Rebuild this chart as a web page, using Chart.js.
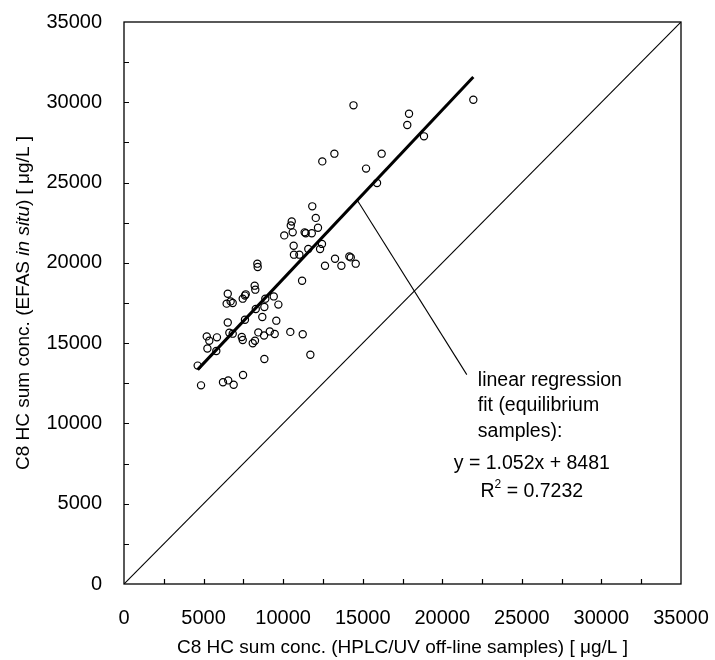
<!DOCTYPE html>
<html>
<head>
<meta charset="utf-8">
<script src="https://cdn.jsdelivr.net/npm/chart.js@4.4.1/dist/chart.umd.min.js"></script>
<style>
  html,body{margin:0;padding:0;background:#fff;}
  #wrap{width:715px;height:660px;}
</style>
</head>
<body>
<div id="wrap"><canvas id="c" width="715" height="660"></canvas></div>
<script>
// HPLC/UV off-line sums (x) vs EFAS in situ sums (y), µg/L
const offlineX = [
  14420, 12460, 13220, 11830, 12050, 10540, 10480, 12190, 10070, 10600,
  11350, 11420, 11800, 12440, 10660, 12320, 11580, 10680, 11020, 8380,
  8400, 12630, 13260, 13660, 14160, 14250, 14560, 11190, 21950, 17910,
  17800, 18850, 16190, 15210, 15900, 8210, 8250, 6520, 7650, 7600,
  7460, 9410, 8880, 6450, 6700, 6830, 9700, 8820, 8280, 6520,
  7600, 8690, 9570, 6620, 6830, 8440, 8800, 9160, 9470, 10450,
  11230, 5200, 5360, 5840, 7400, 7460, 8230, 8090, 5240, 5800,
  4630, 8820, 11710, 4840, 6220, 6550, 6890, 7480
];
const inSituY = [
  29810, 26320, 26800, 23520, 22800, 22580, 22330, 22190, 21710, 21900,
  21900, 21840, 21840, 21180, 21070, 20860, 20860, 20510, 20510, 19950,
  19740, 19820, 20260, 19820, 20400, 20340, 19950, 18890, 30160, 29290,
  28590, 27880, 26800, 25870, 24970, 18580, 18330, 18080, 18040, 17960,
  17770, 17910, 17770, 17460, 17600, 17500, 17400, 17250, 17130, 16290,
  16460, 16630, 16400, 15650, 15590, 15670, 15480, 15730, 15570, 15700,
  15550, 15420, 15150, 15360, 15380, 15200, 15150, 14990, 14670, 14510,
  13600, 14010, 14280, 12370, 12560, 12680, 12410, 13020
];

// regression through equilibrium samples
const fitSlope = 1.052;
const fitIntercept = 8481;
const fitR2 = '0.7232';

// axis range and label step
const axisMax = 35000;
const labelStep = 5000;
const minorStep = 2500;

// pointer from the fit line to the note (x on the fit line, then end point)
const leaderFromX = 14660;
const leaderTo = [21540, 13040];

const noteLines = ['linear regression', 'fit (equilibrium', 'samples):'];
const eqText = 'y = ' + fitSlope.toFixed(3) + 'x + ' + fitIntercept;

const FONT = '"Liberation Sans", Arial, Helvetica, sans-serif';

const fitX0 = Math.min(...offlineX);
const fitX1 = Math.max(...offlineX);
const fitLine = [fitX0, fitX1].map(x => ({x: x, y: fitSlope * x + fitIntercept}));
const oneToOne = [{x: 0, y: 0}, {x: axisMax, y: axisMax}];
const leader = [
  {x: leaderFromX, y: fitSlope * leaderFromX + fitIntercept},
  {x: leaderTo[0], y: leaderTo[1]}
];
const points = offlineX.map((x, i) => ({x: x, y: inSituY[i]}));

// keep the plot box where the layout padding puts it
function fixBox(s) {
  s.paddingTop = 0; s.paddingBottom = 0; s.paddingLeft = 0; s.paddingRight = 0;
}

// box, inward ticks, axis titles and the fit note
const decor = {
  id: 'decor',
  afterDraw(chart) {
    const {ctx, chartArea: a, scales: {x, y}} = chart;
    ctx.save();
    ctx.strokeStyle = '#000';
    ctx.lineWidth = 1.3;
    ctx.strokeRect(a.left, a.top, a.right - a.left, a.bottom - a.top);
    ctx.lineWidth = 1.2;
    ctx.beginPath();
    for (let v = minorStep; v < axisMax; v += minorStep) {
      const px = Math.round(x.getPixelForValue(v)) + 0.5;
      ctx.moveTo(px, a.bottom);
      ctx.lineTo(px, a.bottom - 5);
      const py = Math.round(y.getPixelForValue(v)) + 0.5;
      ctx.moveTo(a.left, py);
      ctx.lineTo(a.left + 5, py);
    }
    ctx.stroke();

    ctx.fillStyle = '#000';
    // x title
    ctx.font = '19px ' + FONT;
    ctx.textAlign = 'center';
    ctx.textBaseline = 'alphabetic';
    ctx.fillText('C8 HC sum conc. (HPLC/UV off-line samples) [ \u03bcg/L ]', (a.left + a.right) / 2, 653);

    // y title, with italic "in situ"
    const parts = [
      ['C8 HC sum conc. (EFAS ', 'normal'],
      ['in situ', 'italic'],
      [') [ \u03bcg/L ]', 'normal']
    ];
    let total = 0;
    parts.forEach(p => { ctx.font = p[1] + ' 19px ' + FONT; p.push(ctx.measureText(p[0]).width); total += p[2]; });
    ctx.translate(29, (a.top + a.bottom) / 2);
    ctx.rotate(-Math.PI / 2);
    ctx.textAlign = 'left';
    let cx = -total / 2;
    parts.forEach(p => { ctx.font = p[1] + ' 19px ' + FONT; ctx.fillText(p[0], cx, 0); cx += p[2]; });
    ctx.setTransform(1, 0, 0, 1, 0, 0);

    // note beside the leader end
    const ex = x.getPixelForValue(leaderTo[0]);
    const ey = y.getPixelForValue(leaderTo[1]);
    ctx.font = '19.5px ' + FONT;
    ctx.textAlign = 'left';
    noteLines.forEach((t, i) => ctx.fillText(t, ex + 11, ey + 11 + i * 25.5));
    ctx.textAlign = 'center';
    const eqX = ex + 65;
    ctx.fillText(eqText, eqX, ey + 94);
    // R² line
    const rest = ' = ' + fitR2;
    const wR = ctx.measureText('R').width;
    const wRest = ctx.measureText(rest).width;
    ctx.font = '12px ' + FONT;
    const w2 = ctx.measureText('2').width;
    const start = eqX - (wR + w2 + wRest) / 2;
    ctx.textAlign = 'left';
    ctx.font = '19.5px ' + FONT;
    ctx.fillText('R', start, ey + 122);
    ctx.font = '12px ' + FONT;
    ctx.fillText('2', start + wR, ey + 113);
    ctx.font = '19.5px ' + FONT;
    ctx.fillText(rest, start + wR + w2, ey + 122);
    ctx.restore();
  }
};

new Chart(document.getElementById('c'), {
  type: 'scatter',
  data: {
    datasets: [
      {data: oneToOne, type: 'line', showLine: true, borderColor: '#000', borderWidth: 1.1, pointRadius: 0, order: 3},
      {data: fitLine, type: 'line', showLine: true, borderColor: '#000', borderWidth: 3, pointRadius: 0, order: 2},
      {data: leader, type: 'line', showLine: true, borderColor: '#000', borderWidth: 1.1, pointRadius: 0, clip: false, order: 2},
      {data: points, pointStyle: 'circle', pointRadius: 3.6, borderWidth: 1.2, borderColor: '#000',
       backgroundColor: 'rgba(255,255,255,0)', order: 1}
    ]
  },
  options: {
    responsive: false,
    animation: false,
    layout: {padding: {top: 22, right: 34, left: 0, bottom: 0}},
    plugins: {legend: {display: false}, tooltip: {enabled: false}},
    scales: {
      x: {
        type: 'linear', min: 0, max: axisMax,
        grid: {display: false, drawTicks: false},
        border: {display: false},
        ticks: {stepSize: labelStep, color: '#000', padding: 22, maxRotation: 0,
                font: {family: FONT, size: 20}, callback: v => String(v)},
        afterFit(s) { s.height = 76; fixBox(s); }
      },
      y: {
        type: 'linear', min: 0, max: axisMax,
        grid: {display: false, drawTicks: false},
        border: {display: false},
        ticks: {stepSize: labelStep, color: '#000', padding: 22,
                font: {family: FONT, size: 20}, callback: v => String(v)},
        afterFit(s) { s.width = 124; fixBox(s); }
      }
    }
  },
  plugins: [decor]
});
</script>
</body>
</html>
